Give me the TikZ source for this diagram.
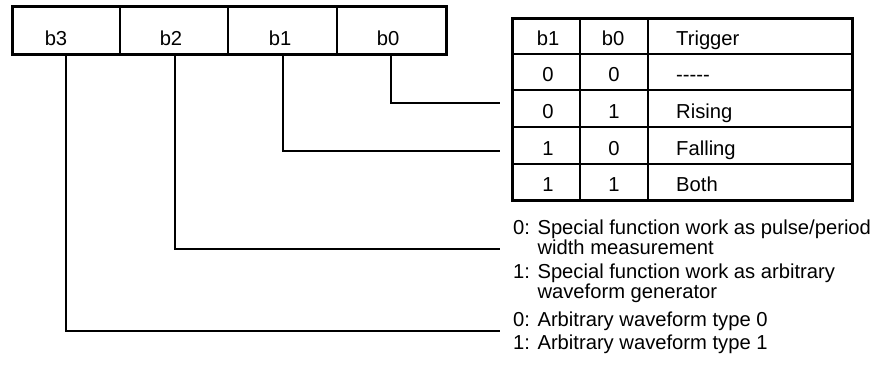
\documentclass[tikz,border=0pt]{standalone}
\usepackage{fontspec}
\setmainfont{Liberation Sans}
\begin{document}
\begin{tikzpicture}[x=1pt,y=-1pt,
  txt/.style={font=\fontsize{20.2}{18.5}\selectfont, inner sep=0pt},
  frame/.style={line width=3pt},
  divider/.style={line width=2pt},
  grid/.style={line width=2.6pt},
  conn/.style={line width=2.2pt}]
\useasboundingbox (0,0) rectangle (872,365);
% register
\draw[frame] (12,6) rectangle (446,54);
\foreach \x in {120,228,337} \draw[divider] (\x,6) -- (\x,54);
\node[txt,anchor=base] (lb3) at (56,45) {b3};
\node[txt,anchor=base] (lb2) at (171,45) {b2};
\node[txt,anchor=base] (lb1) at (280,45) {b1};
\node[txt,anchor=base] (lb0) at (388,45) {b0};
\coordinate (b3bot) at (66,54);
\coordinate (b2bot) at (175,54);
\coordinate (b1bot) at (283,54);
\coordinate (b0bot) at (391,54);
% table
\draw[frame] (512,18) rectangle (852,200);
\foreach \y in {54,90,127,164} \draw[grid] (512,\y) -- (852,\y);
\foreach \x in {580,648} \draw[grid] (\x,18) -- (\x,200);
\node[txt,anchor=base] (h1) at (548,45) {b1};
\node[txt,anchor=base] (h2) at (613,45) {b0};
\node[txt,anchor=base west] (h3) at (676,45) {Trigger};
\node[txt,anchor=base] (r1a) at (548,81) {0};
\node[txt,anchor=base] (r1b) at (614,81) {0};
\node[txt,anchor=base west] (r1c) at (676,81) {-{}-{}-{}-{}-};
\node[txt,anchor=base] (r2a) at (548,118) {0};
\node[txt,anchor=base] (r2b) at (614,118) {1};
\node[txt,anchor=base west] (r2c) at (676,118) {Rising};
\node[txt,anchor=base] (r3a) at (548,155) {1};
\node[txt,anchor=base] (r3b) at (614,155) {0};
\node[txt,anchor=base west] (r3c) at (676,155) {Falling};
\node[txt,anchor=base] (r4a) at (548,191) {1};
\node[txt,anchor=base] (r4b) at (614,191) {1};
\node[txt,anchor=base west] (r4c) at (676,191) {Both};
% descriptions (base = baseline of last line)
\node[txt,anchor=base west,align=left] (d1) at (513,254) {0: Special function work as pulse/period\\\hphantom{0: }width measurement};
\node[txt,anchor=base west,align=left] (d2) at (513,298) {1: Special function work as arbitrary\\\hphantom{1: }waveform generator};
\node[txt,anchor=base west] (d3) at (513,326) {0: Arbitrary waveform type 0};
\node[txt,anchor=base west] (d4) at (513,349) {1: Arbitrary waveform type 1};
% connector ends
\coordinate (e0) at (500,103);
\coordinate (e1) at (500,151);
\coordinate (e2) at (500,249);
\coordinate (e3) at (500,331);
\draw[conn] (b0bot) |- (e0);
\draw[conn] (b1bot) |- (e1);
\draw[conn] (b2bot) |- (e2);
\draw[conn] (b3bot) |- (e3);
\end{tikzpicture}
\end{document}
